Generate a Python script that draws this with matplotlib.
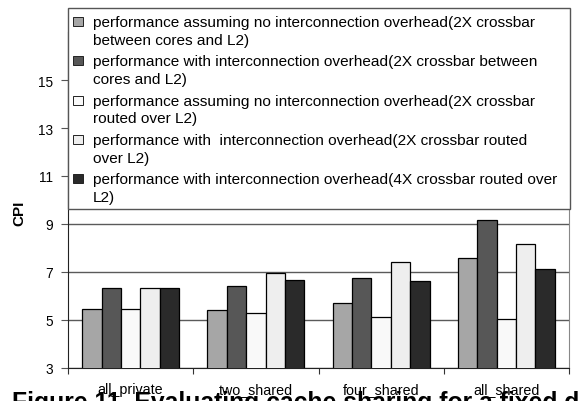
import numpy as np
import matplotlib.pyplot as plt
from matplotlib.patches import Rectangle

plt.rcParams['font.family'] = ['Liberation Sans', 'DejaVu Sans']

# configurations on the x axis
configs = ['all_private', 'two_shared', 'four_shared', 'all_shared']

# CPI per configuration, one list per series
no_ovh_2x_between = [5.45, 5.40, 5.70, 7.58]
ovh_2x_between = [6.33, 6.43, 6.76, 9.17]
no_ovh_2x_routed = [5.45, 5.30, 5.11, 5.03]
ovh_2x_routed = [6.33, 6.95, 7.42, 8.18]
ovh_4x_routed = [6.33, 6.68, 6.61, 7.11]

labels = [
    'performance assuming no interconnection overhead(2X crossbar\nbetween cores and L2)',
    'performance with interconnection overhead(2X crossbar between\ncores and L2)',
    'performance assuming no interconnection overhead(2X crossbar\nrouted over L2)',
    'performance with  interconnection overhead(2X crossbar routed\nover L2)',
    'performance with interconnection overhead(4X crossbar routed over\nL2)',
]
series = [no_ovh_2x_between, ovh_2x_between, no_ovh_2x_routed, ovh_2x_routed, ovh_4x_routed]
colors = ['#a6a6a6', '#575757', '#f9f9f9', '#eeeeee', '#2a2a2a']

W, H = 580, 402
fig = plt.figure(figsize=(W / 100, H / 100), dpi=100)
ax = fig.add_axes([68 / W, 1 - 369 / H, 501 / W, 336 / H])

x = np.arange(len(configs))
w = 0.155
for i, (vals, col) in enumerate(zip(series, colors)):
    ax.bar(x + (i - 2) * w, vals, w, color=col, edgecolor='black', linewidth=0.9, zorder=3)

ax.set_xlim(-0.5, 3.5)
ax.set_ylim(3, 17)
ax.set_yticks([3, 5, 7, 9, 11, 13, 15])
ax.yaxis.grid(True, color='#5a5a5a', linewidth=1, zorder=0)
ax.set_axisbelow(True)

# group ticks sit between the clusters, names go on minor ticks
ax.set_xticks(np.arange(-0.5, 4, 1))
ax.set_xticklabels([])
ax.set_xticks(x, minor=True)
ax.set_xticklabels(configs, minor=True, fontsize=10.3)
ax.tick_params(axis='x', which='major', direction='out', length=4, color='#333333')
ax.tick_params(axis='x', which='minor', length=0, pad=10)
ax.tick_params(axis='y', direction='out', length=5, pad=6, labelsize=9.8, color='#555555')

ax.spines['top'].set_visible(False)
ax.spines['right'].set_color('#888888')
ax.spines['left'].set_color('#222222')
ax.spines['bottom'].set_color('#222222')

ax.set_ylabel('CPI', fontsize=11, fontweight='bold')
ax.yaxis.set_label_coords(-0.084, 0.464)

# legend box, handle squares aligned with the first line of each entry
fig.add_artist(Rectangle((68 / W, 1 - 210 / H), 502 / W, 201 / H, transform=fig.transFigure,
                         facecolor='white', edgecolor='#555555', linewidth=1, zorder=5))
for i, (lab, col) in enumerate(zip(labels, colors)):
    base = 27 + 39.3 * i
    fig.add_artist(Rectangle((73 / W, 1 - base / H), 9.5 / W, 9 / H, transform=fig.transFigure,
                             facecolor=col, edgecolor='#222222', linewidth=0.7, zorder=6))
    for j, line in enumerate(lab.split('\n')):
        fig.text(92.5 / W, 1 - (base + 17.7 * j) / H, line, fontsize=11.05,
                 va='baseline', ha='left', zorder=6)

fig.text(12 / W, 1 - 410 / H, 'Figure 11. Evaluating cache sharing for a fixed die size',
         fontsize=17.8, fontweight='bold', va='baseline', ha='left')

fig.savefig('out.png', dpi=100)
